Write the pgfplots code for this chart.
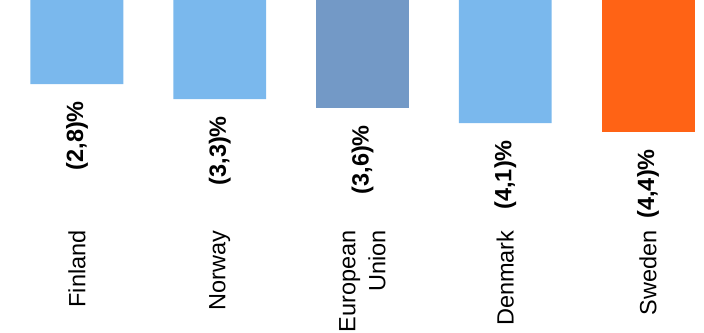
\documentclass[border=0pt]{standalone}
\usepackage{pgfplots}
\pgfplotsset{compat=1.18}
\usepackage{fontspec}
\setmainfont{Liberation Sans}
\definecolor{lblue}{HTML}{7AB8ED}
\definecolor{eublue}{HTML}{7399C6}
\definecolor{sorange}{HTML}{FF6315}
\begin{document}
\begin{tikzpicture}
\begin{axis}[
  at={(0,0)}, anchor=north west,
  width=704pt, height=226pt, scale only axis,
  xmin=-0.539, xmax=4.392, ymin=-7.533, ymax=0,
  axis line style={draw=none},
  major tick style={draw=none},
  ytick=\empty,
  xtick={0,1,2,3,4},
  xticklabels={Finland,Norway,{European\\Union},Denmark,Sweden},
  xticklabel style={rotate=90, anchor=east, align=right, inner sep=0pt,
    font=\fontsize{23.5}{30}\selectfont},
  ybar, bar width=0.651, bar shift=0pt,
  point meta=explicit,
  nodes near coords={(\pgfmathprintnumber[fixed,fixed zerofill,precision=1,use comma,assume math mode=true]{\pgfplotspointmeta})\%},
  every node near coord/.append style={yshift=-17pt, rotate=90, anchor=east, inner sep=0pt,
    font=\bfseries\fontsize{23.5}{28}\selectfont, text=black},
]
\addplot[fill=lblue, draw=none] table[x=x, y=y, meta=v] {
x y v
0 -2.8 2.8
1 -3.3 3.3
3 -4.1 4.1
};
\addplot[fill=eublue, draw=none] table[x=x, y=y, meta=v] {
x y v
2 -3.6 3.6
};
\addplot[fill=sorange, draw=none] table[x=x, y=y, meta=v] {
x y v
4 -4.4 4.4
};
\end{axis}
\pgfresetboundingbox
\useasboundingbox (0,0) rectangle (704pt,-332pt);
\end{tikzpicture}
\end{document}
